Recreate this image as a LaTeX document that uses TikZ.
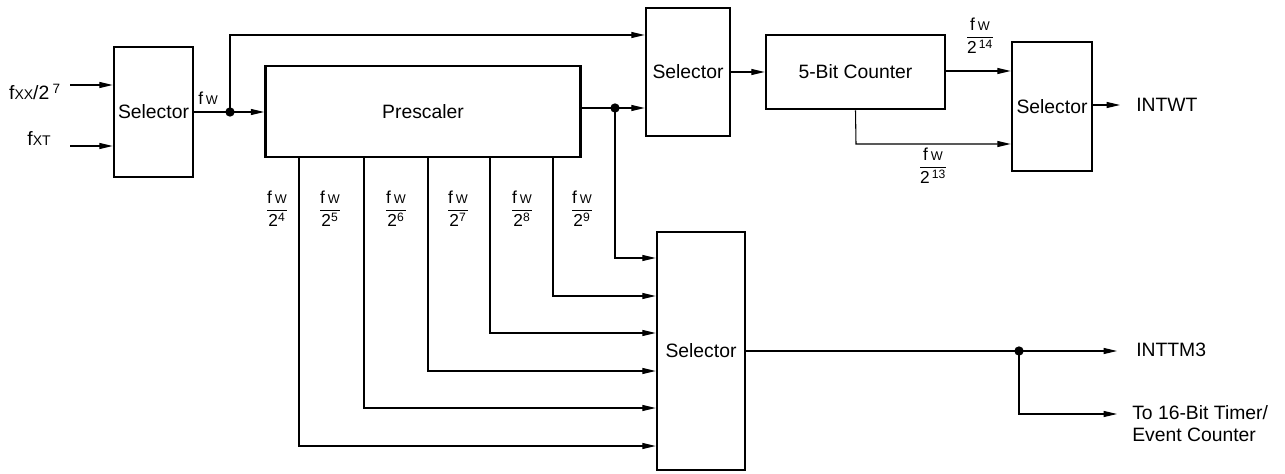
\documentclass[tikz,border=0pt]{standalone}
\usepackage{amsmath}
\usepackage{xcolor}
\usepackage{fontspec}
\setmainfont{Liberation Sans}
\usetikzlibrary{arrows.meta}

\newcommand{\fwover}[1]{$\dfrac{\text{f\,{\fontsize{9.5}{9.5}\selectfont W}}}{\text{2\textsuperscript{#1}}}$}

\begin{document}
\begin{tikzpicture}[x=0.75pt,y=0.75pt,yscale=-1,xscale=1,
  blk/.style={draw,line width=2pt,inner sep=0pt,font=\fontsize{14.5}{17}\selectfont},
  wire/.style={line width=0.8pt},
  arr/.style={wire,-{Triangle[length=10pt,width=4.5pt]}},
  jdot/.style={circle,fill,inner sep=0pt,minimum size=7pt},
  lbl/.style={inner sep=0.75pt,font=\fontsize{14.5}{16.5}\selectfont},
  frc/.style={inner sep=0.75pt,font=\fontsize{13}{15}\selectfont}]
%set diagram left start at 0, and has height of 474
\path (0,0) rectangle (1285,474);

% Blocks
\node[blk,minimum width=59.25pt,minimum height=97.5pt] (selIn) at (153.5,112) {Selector};
\node[blk,minimum width=236.25pt,minimum height=68.25pt] (presc) at (423,111.5) {Prescaler};
\node[blk,minimum width=63pt,minimum height=96pt] (selCnt) at (688,72) {Selector};
\node[blk,minimum width=134.25pt,minimum height=55.5pt] (cnt) at (855.5,72) {5-Bit Counter};
\node[blk,minimum width=60pt,minimum height=96.75pt] (selWT) at (1052,106.5) {Selector};
\node[blk,minimum width=66pt,minimum height=178.5pt] (selTM) at (701,351) {Selector};

% Text Node
\node[lbl,anchor=base east] (lblxx) at (62,100) {f{\fontsize{10.5}{10.5}\selectfont XX}/2\,\textsuperscript{7}};
% Text Node
\node[lbl,anchor=base east] (lblxt) at (52,146) {f{\fontsize{10.5}{10.5}\selectfont XT}};
% Text Node
\node[frc,anchor=base west] (lblfw) at (197,105) {f\,{\fontsize{9.5}{9.5}\selectfont W}};
% Text Node
\node[lbl,anchor=west] (lblwt) at (1135,105) {INTWT};
% Text Node
\node[lbl,anchor=west] (lbltm) at (1135,350) {INTTM3};
% Text Node
\node[lbl,anchor=north west,align=left] (lbltimer) at (1131,404) {To 16-Bit Timer/\\Event Counter};
% Text Node
\node[frc] (fw14) at (980,36) {\fwover{\,14}};
% Text Node
\node[frc] (fw13) at (933,166) {\fwover{\,13}};
\foreach \n/\x in {4/277,5/330,6/396,7/458,8/522,9/582}
  \node[frc] (fw\n) at (\x,209) {\fwover{\n}};

% Junctions
\node[jdot] (jfw) at (230,112) {};
\node[jdot] (jtap) at (615,108) {};
\node[jdot] (jtm) at (1019,351) {};
\coordinate (inxx) at (70,85);
\coordinate (inxt) at (70,146);
\coordinate (topin) at (230,35);
\coordinate (c13) at (856,144);
\coordinate (outwt) at (1120,105);
\coordinate (outtm) at (1117,351);
\coordinate (outev) at (1117,414);

%Straight Lines
\draw[arr] (inxx) -- (inxx -| selIn.west);
\draw[arr] (inxt) -- (inxt -| selIn.west);
\draw[wire] (selIn.east) -- (jfw.center);
\draw[arr] (jfw.center) -- (jfw -| presc.west);
\draw[arr] (jfw.center) -- (topin) -- (topin -| selCnt.west);
\draw[wire] (presc.east |- jtap) -- (jtap.center);
\draw[arr] (jtap.center) -- (jtap -| selCnt.west);
\draw[arr] (jtap.center) |- (selTM.west |- 0,258);
\draw[arr] (selCnt.east) -- (cnt.west);
\draw[arr] (cnt.east |- 0,71) -- (selWT.west |- 0,71);
\draw[arr] (cnt.south) -- (c13) -- (c13 -| selWT.west);
\draw[arr] (selWT.east |- outwt) -- (outwt);
\foreach \x/\y in {299/446,364/408,428/371,490/333,553/296}
  \draw[arr] (\x,0 |- presc.south) |- (selTM.west |- 0,\y);
\draw[wire] (selTM.east) -- (jtm.center);
\draw[arr] (jtm.center) -- (outtm);
\draw[arr] (jtm.center) |- (outev);

\end{tikzpicture}
\end{document}
